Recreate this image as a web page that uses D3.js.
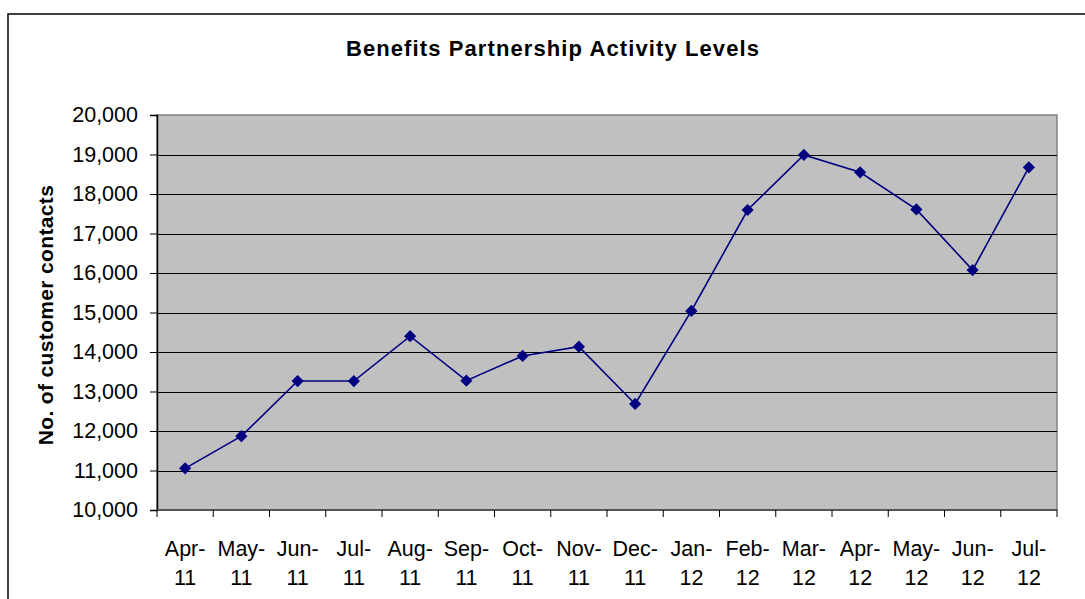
<!DOCTYPE html>
<html>
<head>
<meta charset="utf-8">
<script src="https://cdn.jsdelivr.net/npm/d3@7"></script>
<style>
  body { margin: 0; background: #fff; }
  text { font-family: "Liberation Sans", Arial, sans-serif; fill: #000; }
</style>
</head>
<body>
<div id="chart"></div>
<script>
// monthly customer contacts
var months = ['Apr-11', 'May-11', 'Jun-11', 'Jul-11', 'Aug-11', 'Sep-11', 'Oct-11', 'Nov-11',
              'Dec-11', 'Jan-12', 'Feb-12', 'Mar-12', 'Apr-12', 'May-12', 'Jun-12', 'Jul-12'];
var contacts = [11055, 11870, 13265, 13265, 14400, 13275, 13900, 14135,
                12685, 15040, 17595, 18990, 18550, 17610, 16075, 18675];
var yTicks = [10000, 11000, 12000, 13000, 14000, 15000, 16000, 17000, 18000, 19000, 20000];

var width = 1085, height = 599;
var margin = { top: 115, left: 157, right: 28, bottom: 89 };

var svg = d3.select("#chart").append("svg")
    .attr("width", width)
    .attr("height", height)

// chart frame
svg.append("rect")
    .attr("x", 8).attr("y", 14)
    .attr("width", 1100).attr("height", 620)
    .attr("fill", "#fff")
    .attr("stroke", "#000")
    .attr("stroke-width", 1.5)

var x = d3.scaleBand()
    .domain(months)
    .range([margin.left, width - margin.right])
    .padding(0)

var y = d3.scaleLinear()
    .domain([10000, 20000])
    .range([height - margin.bottom, margin.top])

// plot area
svg.append("rect")
    .attr("x", margin.left).attr("y", margin.top)
    .attr("width", width - margin.left - margin.right)
    .attr("height", height - margin.top - margin.bottom)
    .attr("fill", "#c0c0c0")
    .attr("stroke", "#808080")
    .attr("stroke-width", 1.5)

// gridlines
svg.append("g").selectAll("line")
    .data(yTicks.slice(1, -1))
    .enter().append("line")
    .attr("x1", margin.left).attr("x2", width - margin.right)
    .attr("y1", function(d) { return Math.round(y(d)) + 0.5 })
    .attr("y2", function(d) { return Math.round(y(d)) + 0.5 })
    .attr("stroke", "#000")
    .attr("stroke-width", 1.2)

// y axis
var yAxis = svg.append("g")
    .attr("transform", "translate(" + margin.left + ",0)")
    .call(d3.axisLeft(y).tickValues(yTicks).tickFormat(d3.format(",")).tickSize(7).tickPadding(12))
yAxis.select(".domain").attr("stroke", "#000").attr("stroke-width", 1.5)
yAxis.selectAll(".tick line").attr("stroke", "#000")
yAxis.selectAll(".tick text")
    .style("font-size", "21.5px")
    .attr("fill", "#000")

// x axis
var xBase = height - margin.bottom;
svg.append("line")
    .attr("x1", margin.left).attr("x2", width - margin.right)
    .attr("y1", xBase).attr("y2", xBase)
    .attr("stroke", "#404040")
    .attr("stroke-width", 1.5)

var bounds = months.map(function(m) { return x(m) }).concat([x(months[months.length - 1]) + x.bandwidth()]);
svg.append("g").selectAll("line")
    .data(bounds)
    .enter().append("line")
    .attr("x1", function(d) { return d }).attr("x2", function(d) { return d })
    .attr("y1", xBase).attr("y2", xBase + 7)
    .attr("stroke", "#000")

var xLabels = svg.append("g").selectAll("text")
    .data(months)
    .enter().append("text")
    .attr("text-anchor", "middle")
    .style("font-size", "21.5px")
    .attr("transform", function(d) { return "translate(" + (x(d) + x.bandwidth() / 2) + "," + 556 + ")" })

xLabels.append("tspan")
    .attr("x", 0).attr("y", 0)
    .text(function(d) { return d.split("-")[0] + "-" })
xLabels.append("tspan")
    .attr("x", 0).attr("y", 29)
    .text(function(d) { return d.split("-")[1] })

// series
var line = d3.line()
    .x(function(d, i) { return x(months[i]) + x.bandwidth() / 2 })
    .y(function(d) { return y(d) })

svg.append("path")
    .datum(contacts)
    .attr("d", line)
    .attr("fill", "none")
    .attr("stroke", "#000080")
    .attr("stroke-width", 1.6)

svg.append("g").selectAll("path")
    .data(contacts)
    .enter().append("path")
    .attr("d", d3.symbol().type(d3.symbolDiamond2).size(95))
    .attr("transform", function(d, i) {
        return "translate(" + (x(months[i]) + x.bandwidth() / 2) + "," + y(d) + ")"
    })
    .attr("fill", "#000080")

// title
svg.append("text")
    .attr("x", 553).attr("y", 56)
    .attr("text-anchor", "middle")
    .style("font-size", "22px")
    .style("font-weight", "bold")
    .style("letter-spacing", "1.1px")
    .text("Benefits Partnership Activity Levels")

// y axis title
svg.append("text")
    .attr("transform", "translate(53," + 315 + ") rotate(-90)")
    .attr("text-anchor", "middle")
    .style("font-size", "21px")
    .style("font-weight", "bold")
    .style("letter-spacing", "0.35px")
    .text("No. of customer contacts")
</script>
</body>
</html>
